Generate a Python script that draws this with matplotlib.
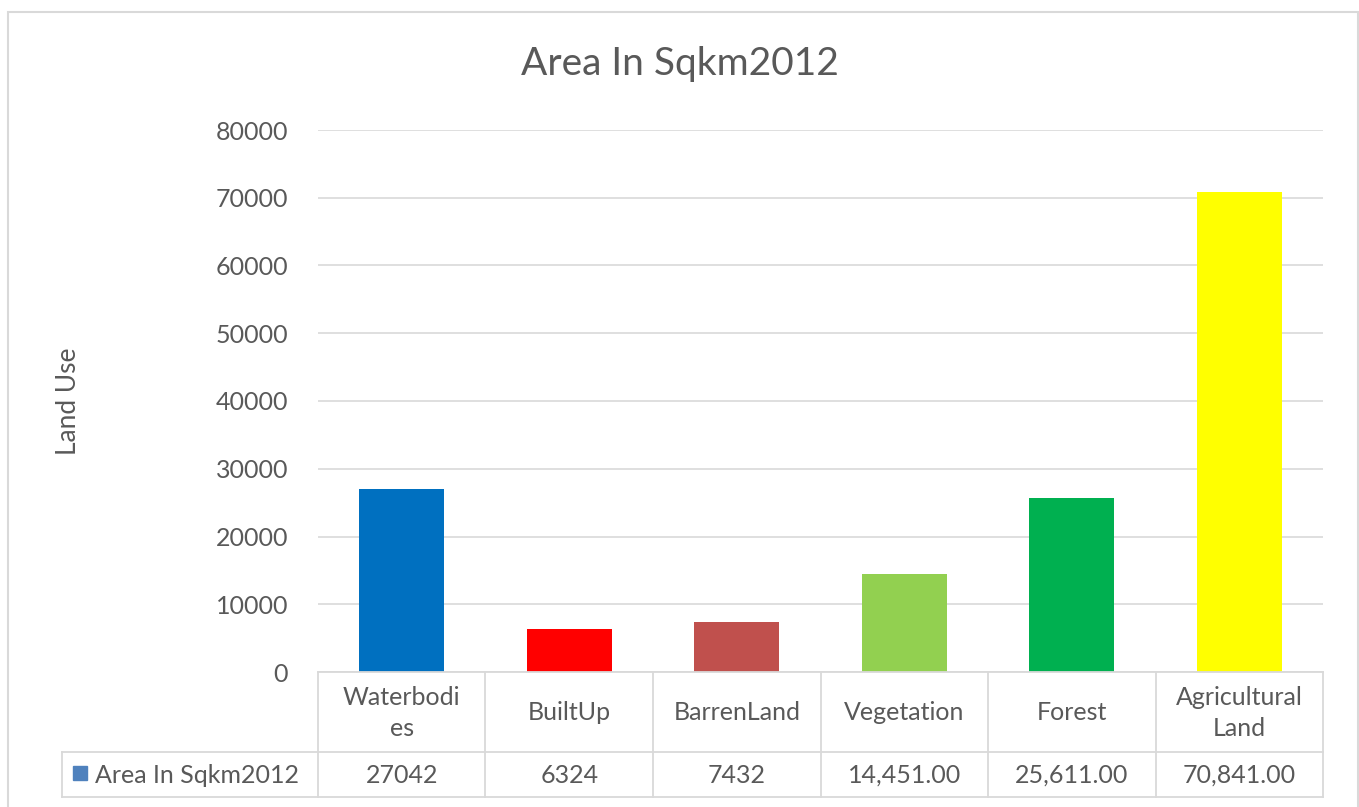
import matplotlib
matplotlib.use("Agg")
import matplotlib.pyplot as plt
from matplotlib.patches import Rectangle
from matplotlib.lines import Line2D

categories = ["Waterbodi\nes", "BuiltUp", "BarrenLand", "Vegetation", "Forest", "Agricultural\nLand"]
values = [27042, 6324, 7432, 14451, 25611, 70841]
value_labels = ["27042", "6324", "7432", "14,451.00", "25,611.00", "70,841.00"]
bar_colors = ["#0070C0", "#FF0000", "#C0504D", "#92D050", "#00B050", "#FFFF00"]
series_name = "Area In Sqkm2012"
title = "Area In Sqkm2012"
ylabel = "Land Use"
yticks = [0, 10000, 20000, 30000, 40000, 50000, 60000, 70000, 80000]

plt.rcParams['font.family'] = ['Lato', 'DejaVu Sans']
TXT = "#595959"
GRID = "#D9D9D9"
FS = 18

W, H = 1359, 807
fig = plt.figure(figsize=(W / 100, H / 100), dpi=100)

def fx(px):
    return px / W

def fy(py):
    return 1 - py / H

left, right, top, bottom = 318, 1323, 130, 672
ax = fig.add_axes([fx(left), fy(bottom), fx(right) - fx(left), fy(top) - fy(bottom)])
x = list(range(len(categories)))
ax.bar(x, values, width=0.51, color=bar_colors, zorder=3)
ax.set_xlim(-0.5, len(categories) - 0.5)
ax.set_ylim(0, 80000)
ax.set_yticks(yticks)
ax.set_yticklabels([str(t) for t in yticks], fontsize=FS, color=TXT)
ax.tick_params(axis='y', length=0, pad=21.5)
ax.set_xticks([])
for s in ax.spines.values():
    s.set_visible(False)
ax.grid(axis='y', color=GRID, linewidth=1.2, zorder=0)
ax.set_axisbelow(True)

# outer chart border
fig.add_artist(Rectangle((fx(8), fy(830)), fx(1358) - fx(8), fy(12) - fy(830),
                         transform=fig.transFigure, fill=False, edgecolor=GRID, linewidth=1.5))

fig.text(fx(680), fy(64), title, ha='center', va='center', fontsize=28, color=TXT)
fig.text(fx(68), fy(401), ylabel, ha='center', va='center', rotation=90, fontsize=19, color=TXT)

# data table
row0, row1, row2 = 672, 752, 797
col_w = (right - left) / len(categories)
def line(x0, y0, x1, y1):
    fig.add_artist(Line2D([fx(x0), fx(x1)], [fy(y0), fy(y1)], transform=fig.transFigure,
                          color=GRID, linewidth=1.3))
line(left, row0, right, row0)
line(62, row1, right, row1)
line(62, row2, right, row2)
line(62, row1, 62, row2)
for i in range(len(categories) + 1):
    xc = left + i * col_w
    line(xc, row0, xc, row2)

for i, (c, v) in enumerate(zip(categories, value_labels)):
    xc = left + (i + 0.5) * col_w
    fig.text(fx(xc), fy((row0 + row1) / 2 + 1), c, ha='center', va='center', fontsize=FS,
             color=TXT, linespacing=1.45)
    fig.text(fx(xc), fy((row1 + row2) / 2 + 1), v, ha='center', va='center', fontsize=FS, color=TXT)

fig.add_artist(Rectangle((fx(73), fy(780)), fx(87) - fx(73), fy(766) - fy(780),
                         transform=fig.transFigure, color="#4F81BD"))
fig.text(fx(95), fy((row1 + row2) / 2 + 1), series_name, ha='left', va='center', fontsize=FS, color=TXT)

fig.savefig("out.png", dpi=100)
